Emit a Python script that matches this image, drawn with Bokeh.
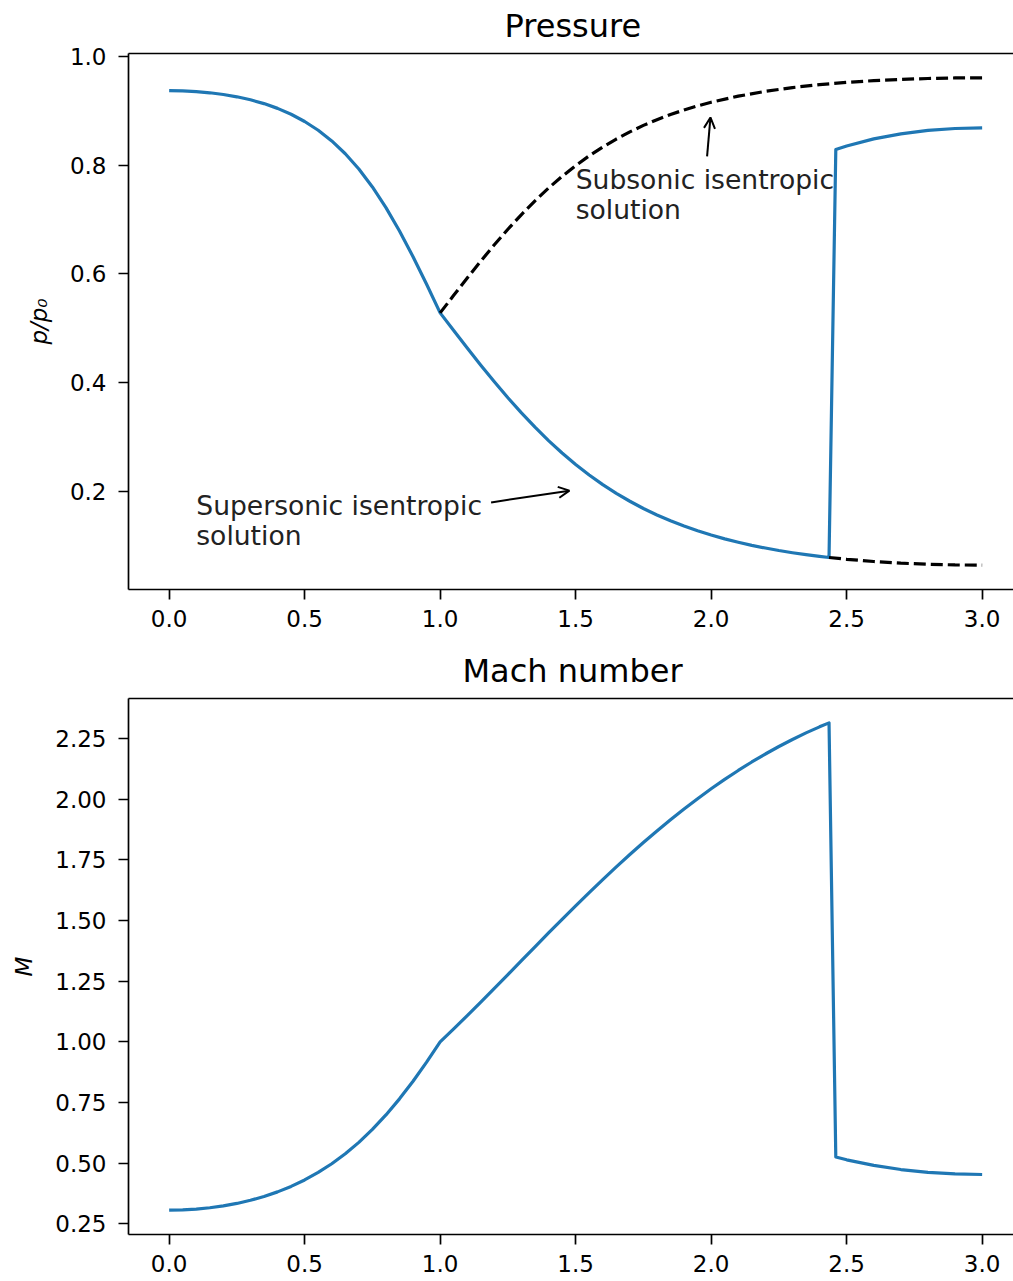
from bokeh.plotting import figure
from bokeh.models import (Range1d, LinearAxis, FixedTicker, Label, Arrow, OpenHead,
                          NumeralTickFormatter, Title)
from bokeh.layouts import column
from bokeh.embed import file_html
from bokeh.resources import INLINE

# ---------------- data ----------------
# nozzle flow with a normal shock (blue curves)
x_flow = [0.0, 0.05, 0.1, 0.15, 0.2, 0.25, 0.3, 0.35, 0.4, 0.45, 0.5,
          0.55, 0.6, 0.65, 0.7, 0.75, 0.8, 0.85, 0.9, 0.95, 1.0,
          1.05, 1.1, 1.15, 1.2, 1.25, 1.3, 1.35, 1.4, 1.45, 1.5,
          1.55, 1.6, 1.65, 1.7, 1.75, 1.8, 1.85, 1.9, 1.95, 2.0,
          2.05, 2.1, 2.15, 2.2, 2.25, 2.3, 2.35, 2.4, 2.435,
          2.46, 2.5, 2.6, 2.7, 2.8, 2.9, 3.0]
p_flow = [0.9372, 0.9368, 0.9355, 0.9333, 0.9302, 0.9259, 0.9204, 0.9134, 0.9046, 0.8938, 0.8805,
          0.8643, 0.8447, 0.8211, 0.7930, 0.7600, 0.7219, 0.6789, 0.6316, 0.5809, 0.5283,
          0.4959, 0.4637, 0.4321, 0.4015, 0.3721, 0.3442, 0.3179, 0.2932, 0.2704, 0.2493,
          0.2300, 0.2122, 0.1962, 0.1816, 0.1683, 0.1564, 0.1457, 0.1360, 0.1273, 0.1195,
          0.1124, 0.1062, 0.1005, 0.0955, 0.0909, 0.0869, 0.0833, 0.0801, 0.0781,
          0.8289, 0.8354, 0.8485, 0.8578, 0.8640, 0.8676, 0.8687]
mach_flow = [0.3059, 0.3070, 0.3102, 0.3156, 0.3233, 0.3335, 0.3464, 0.3622, 0.3812, 0.4037, 0.4303,
             0.4612, 0.4971, 0.5383, 0.5854, 0.6387, 0.6985, 0.7648, 0.8375, 0.9162, 1.0,
             1.0534, 1.1080, 1.1639, 1.2204, 1.2774, 1.3346, 1.3919, 1.4488, 1.5052, 1.5608,
             1.6155, 1.6691, 1.7214, 1.7723, 1.8218, 1.8696, 1.9157, 1.9601, 2.0026, 2.0433,
             2.0821, 2.1189, 2.1539, 2.1868, 2.2178, 2.2468, 2.2738, 2.2988, 2.3152,
             0.5247, 0.5134, 0.4902, 0.4733, 0.4617, 0.4550, 0.4529]

# subsonic isentropic solution (dashed, upper)
x_sub = [1.0, 1.05, 1.1, 1.15, 1.2, 1.25, 1.3, 1.35, 1.4, 1.45, 1.5,
         1.55, 1.6, 1.65, 1.7, 1.75, 1.8, 1.85, 1.9, 1.95, 2.0,
         2.1, 2.2, 2.3, 2.4, 2.5, 2.6, 2.7, 2.8, 2.9, 3.0]
p_sub = [0.5283, 0.5606, 0.5925, 0.6236, 0.6536, 0.6822, 0.7092, 0.7345, 0.7579, 0.7795, 0.7993,
         0.8173, 0.8335, 0.8482, 0.8614, 0.8733, 0.8838, 0.8933, 0.9017, 0.9092, 0.9159,
         0.9271, 0.9359, 0.9429, 0.9483, 0.9525, 0.9557, 0.9580, 0.9596, 0.9606, 0.9608]

# supersonic isentropic solution (dashed, lower, after the shock)
x_sup = [2.435, 2.5, 2.6, 2.7, 2.8, 2.9, 3.0]
p_sup = [0.0781, 0.0748, 0.0707, 0.0677, 0.0656, 0.0644, 0.0640]

# ticks
x_ticks = [0.0, 0.5, 1.0, 1.5, 2.0, 2.5, 3.0]
p_ticks = [0.2, 0.4, 0.6, 0.8, 1.0]
m_ticks = [0.25, 0.5, 0.75, 1.0, 1.25, 1.5, 1.75, 2.0, 2.25]

titles = ["Pressure", "Mach number"]
ylabels = ["p/p\u2080", "M"]

# ---------------- styling ----------------
FONT = "DejaVu Sans"
BLUE = "#1f77b4"
LW = 3.2
SPINE = 1.7
TICK_FS = "23px"


def style_axis(ax, ticks, fmt, standoff):
    ax.ticker = FixedTicker(ticks=ticks)
    ax.formatter = NumeralTickFormatter(format=fmt)
    ax.axis_line_width = SPINE
    ax.axis_line_color = "black"
    ax.major_tick_line_width = SPINE
    ax.major_tick_line_color = "black"
    ax.major_tick_out = 10
    ax.major_tick_in = 0
    ax.minor_tick_out = 0
    ax.minor_tick_in = 0
    ax.major_label_text_font = FONT
    ax.major_label_text_font_size = TICK_FS
    ax.major_label_text_color = "black"
    ax.major_label_standoff = standoff
    ax.axis_label_text_font = FONT
    ax.axis_label_text_font_size = TICK_FS
    ax.axis_label_text_font_style = "italic"
    ax.axis_label_text_color = "black"
    ax.axis_label_standoff = 15


def make_fig(title, ylabel, yr, height, top, bottom, yticks, yfmt, title_offset):
    p = figure(width=1013, height=height, x_range=Range1d(-0.15, 3.1157), y_range=Range1d(*yr),
               output_backend="svg", toolbar_location=None,
               min_border_left=128, min_border_right=0, min_border_top=top,
               min_border_bottom=bottom)
    p.outline_line_color = None
    p.xgrid.grid_line_color = None
    p.ygrid.grid_line_color = None
    p.background_fill_color = "white"
    p.border_fill_color = "white"
    style_axis(p.xaxis[0], x_ticks, "0.0", 10)
    style_axis(p.yaxis[0], yticks, yfmt, 12)
    p.yaxis[0].axis_label = ylabel
    top_ax = LinearAxis(ticker=FixedTicker(ticks=[]), major_label_text_font_size="0px",
                        major_tick_out=0, major_tick_in=0, minor_tick_out=0, minor_tick_in=0,
                        axis_line_width=SPINE, axis_line_color="black", major_label_standoff=0)
    p.add_layout(top_ax, "above")
    p.add_layout(Title(text=title, align="left", offset=title_offset, vertical_align="top",
                       standoff=13, text_font=FONT, text_font_size="32px",
                       text_font_style="normal", text_color="black"), "above")
    return p


# ---------------- top: pressure ----------------
p1 = make_fig(titles[0], ylabels[0], (0.0192, 1.0056), 645, 52, 56, p_ticks, "0.0", 376)
p1.line(x_flow, p_flow, line_color=BLUE, line_width=LW, line_join="round")
p1.line(x_sub, p_sub, line_color="black", line_width=LW, line_dash="12 5")
p1.line(x_sup, p_sup, line_color="black", line_width=LW, line_dash="12 5")

LINE_GAP = 0.0558
for (tx, ty, lines) in [(1.5, 0.7184, ["Subsonic isentropic", "solution"]),
                        (0.1, 0.1184, ["Supersonic isentropic", "solution"])]:
    for i, t in enumerate(lines):
        p1.add_layout(Label(x=tx, y=ty + LINE_GAP * (len(lines) - 1 - i), text=t,
                            text_font=FONT, text_font_size="26.6px", text_color="#222222",
                            text_align="left", text_baseline="alphabetic"))

for (xs, ys, xe, ye) in [(1.985, 0.8164, 1.9974, 0.888), (1.188, 0.1795, 1.477, 0.2011)]:
    p1.add_layout(Arrow(end=OpenHead(size=11, line_width=2, line_color="black"),
                        x_start=xs, y_start=ys, x_end=xe, y_end=ye,
                        line_width=2, line_color="black"))

# ---------------- bottom: Mach number ----------------
p2 = make_fig(titles[1], ylabels[1], (0.2054, 2.4157), 636, 52, 47, m_ticks, "0.00", 334)
p2.line(x_flow, mach_flow, line_color=BLUE, line_width=LW, line_join="round")

layout = column(p1, p2)
open("out.html", "w").write(file_html(layout, INLINE))
